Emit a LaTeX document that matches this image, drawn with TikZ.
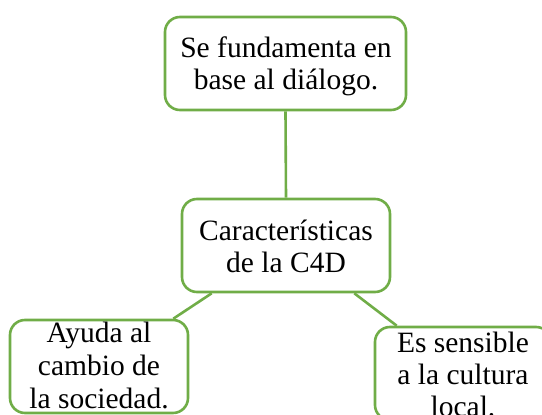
\documentclass[tikz,border=0pt]{standalone}
\usepackage{fontspec}
\setmainfont{Liberation Serif}
\definecolor{gr}{HTML}{70AD47}
\begin{document}
\begin{tikzpicture}[x=1pt,y=-1pt,
  box/.style={draw=gr, line width=2.6pt, rounded corners=15pt, fill=white, inner sep=0pt},
  txt/.style={anchor=base, inner sep=0pt, font=\fontsize{29.5}{32}\selectfont},
  link/.style={draw=gr, line width=2.6pt}]
\useasboundingbox (0,0) rectangle (542,415);
\clip (0,0) rectangle (542,415);
% boxes
\node[box, minimum width=241pt, minimum height=93pt] (top) at (285.5,63.5) {};
\node[box, minimum width=208pt, minimum height=93pt] (mid) at (286,245.5) {};
\node[box, minimum width=178pt, minimum height=93pt] (bl) at (99,366.5) {};
\node[box, minimum width=176pt, minimum height=93pt] (br) at (463,373.5) {};
% connectors
\draw[link] (top.south) -- (mid.north);
\draw[link] ([xshift=31pt]mid.south west) -- ([xshift=-16pt]bl.north east);
\draw[link] ([xshift=-37pt]mid.south east) -- ([xshift=23pt]br.north west);
% texts
\node[txt] (t1) at (286,57) {Se fundamenta en};
\node[txt] (t2) at (286,89) {base al diálogo.};
\node[txt] (m1) at (286,240) {Características};
\node[txt] (m2) at (286,272) {de la C4D};
\node[txt] (l1) at (99,342) {Ayuda al};
\node[txt] (l2) at (99,375) {cambio de};
\node[txt] (l3) at (99,408) {la sociedad.};
\node[txt] (r1) at (463,352) {Es sensible};
\node[txt] (r2) at (463,384) {a la cultura};
\node[txt] (r3) at (463,416) {local.};
\end{tikzpicture}
\end{document}
